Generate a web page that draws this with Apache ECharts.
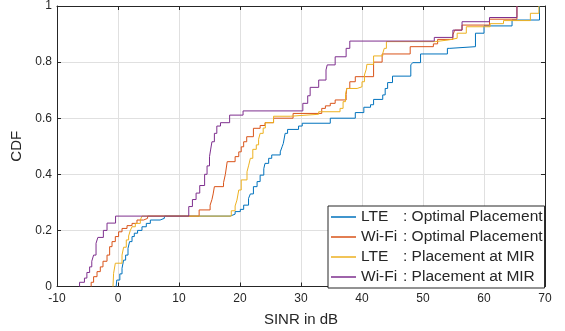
<!DOCTYPE html>
<html>
<head>
<meta charset="utf-8">
<script src="https://cdn.jsdelivr.net/npm/echarts@6/dist/echarts.min.js"></script>
<style>
html, body { margin: 0; padding: 0; background: #fff; }
#chart { width: 565px; height: 331px; }
</style>
</head>
<body>
<div id="chart"></div>
<script>
// series names (legend), colors follow the matlab default order
var seriesNames = ['LTE : Optimal Placement', 'Wi-Fi : Optimal Placement', 'LTE : Placement at MIR', 'Wi-Fi : Placement at MIR'];
var seriesColors = ['#0072BD', '#D95319', '#EDB120', '#7E2F8E'];

var lteOptimal = [
    [-0.3, 0], [-0.2, 0.023], [0.3, 0.045], [0.66, 0.065], [0.92, 0.094], [1.25, 0.112], [1.64, 0.136],
    [1.9, 0.16], [2.3, 0.178], [2.67, 0.19], [3.21, 0.2], [3.93, 0.213], [4.64, 0.225], [5.3, 0.237],
    [6.9, 0.243], [7.6, 0.251], [18.4, 0.258], [19.2, 0.267], [20.05, 0.275], [20.6, 0.29], [21.4, 0.314],
    [21.7, 0.33], [22.2, 0.356], [22.8, 0.374], [23.3, 0.397], [23.9, 0.42], [24.1, 0.439], [24.7, 0.457],
    [25.2, 0.469], [26.6, 0.48], [26.9, 0.498], [27.1, 0.51], [27.4, 0.546], [27.8, 0.56], [29.6, 0.572],
    [30.2, 0.582], [34.8, 0.6], [38.9, 0.62], [40.3, 0.639], [41.4, 0.648], [41.9, 0.667], [43.4, 0.683],
    [43.8, 0.706], [44.2, 0.727], [45.0, 0.75], [48.0, 0.79], [48.3, 0.798], [49.6, 0.829], [54.0, 0.849],
    [54.4, 0.855], [58.6, 0.903], [60.0, 0.929], [64.6, 0.95], [69.1, 1.0]
];
var wifiOptimal = [
    [-4.4, 0], [-4.4, 0.015], [-4.0, 0.035], [-3.44, 0.053], [-2.9, 0.07], [-2.46, 0.09], [-1.8, 0.112],
    [-1.37, 0.142], [-0.98, 0.16], [-0.44, 0.178], [0.1, 0.195], [0.66, 0.207], [1.48, 0.217], [2.3, 0.225],
    [3.11, 0.237], [4.2, 0.243], [4.85, 0.251], [13.3, 0.273], [15.1, 0.29], [15.4, 0.31], [15.6, 0.33],
    [15.8, 0.356], [17.3, 0.37], [17.6, 0.4], [17.9, 0.445], [19.2, 0.463], [19.8, 0.48], [20.2, 0.498],
    [20.6, 0.516], [21.1, 0.534], [22.2, 0.564], [23.3, 0.574], [24.1, 0.584], [25.5, 0.6], [28.7, 0.617],
    [33.4, 0.635], [34.0, 0.644], [34.8, 0.653], [35.6, 0.665], [37.4, 0.685], [37.5, 0.706], [38.0, 0.73],
    [38.9, 0.748], [41.9, 0.8], [43.3, 0.829], [47.9, 0.855], [51.7, 0.865], [52.4, 0.881], [54.9, 0.897],
    [55.2, 0.914], [56.4, 0.932], [60.9, 0.953], [65.4, 1.0]
];
var lteMir = [
    [-0.82, 0], [-0.72, 0.047], [-0.44, 0.083], [0.66, 0.112], [0.92, 0.14], [1.36, 0.166], [1.74, 0.18],
    [2.02, 0.2], [2.3, 0.213], [2.84, 0.225], [3.66, 0.237], [3.93, 0.251], [18.57, 0.27], [19.2, 0.287],
    [19.5, 0.308], [19.8, 0.344], [20.2, 0.38], [21.15, 0.409], [21.4, 0.43], [21.7, 0.457], [22.1, 0.489],
    [22.67, 0.505], [23.05, 0.525], [23.3, 0.546], [23.8, 0.565], [24.15, 0.584], [25.5, 0.607],
    [28.25, 0.614], [32.9, 0.623], [36.4, 0.635], [36.9, 0.659], [37.3, 0.685], [37.5, 0.706], [39.2, 0.712],
    [40.0, 0.73], [40.4, 0.754], [40.7, 0.775], [40.8, 0.792], [41.9, 0.822], [43.4, 0.831], [43.65, 0.849],
    [44.0, 0.873], [52.0, 0.879], [54.2, 0.885], [55.6, 0.903], [57.1, 0.926], [61.0, 0.937], [63.2, 0.948],
    [67.6, 0.974], [69.0, 1.0]
];
var wifiMir = [
    [-6.3, 0], [-6.3, 0.015], [-5.5, 0.03], [-5.1, 0.05], [-4.65, 0.07], [-4.3, 0.09], [-4.0, 0.112],
    [-3.6, 0.154], [-3.3, 0.175], [-2.4, 0.2], [-1.8, 0.226], [-0.4, 0.251], [11.6, 0.285], [12.2, 0.31],
    [12.8, 0.333], [13.4, 0.36], [14.2, 0.4], [14.6, 0.43], [15.0, 0.463], [15.2, 0.49], [15.4, 0.516],
    [15.8, 0.546], [16.2, 0.572], [16.8, 0.584], [18.3, 0.611], [20.5, 0.626], [30.3, 0.653], [31.1, 0.68],
    [31.5, 0.71], [32.9, 0.736], [34.1, 0.772], [34.3, 0.79], [35.6, 0.819], [37.4, 0.849], [38.0, 0.875],
    [51.85, 0.888], [54.9, 0.914], [56.4, 0.944], [60.9, 0.959], [65.4, 1.0]
];
var allSeries = [lteOptimal, wifiOptimal, lteMir, wifiMir];

var xMin = -10, xMax = 70, xStep = 10;
var yMin = 0, yMax = 1, yStep = 0.2;

var font = 'Liberation Sans, Arial, Helvetica, sans-serif';
var axisColor = '#262626';

var myChart = echarts.init(document.getElementById('chart'), null, {renderer: 'canvas'});

// top / right axes only close the box (ticks inside, no labels)
function boxAxis(pos, isX) {
    return {
        type: 'value',
        position: pos,
        min: isX ? xMin : yMin,
        max: isX ? xMax : yMax,
        interval: isX ? xStep : yStep,
        axisLine: {show: true, onZero: false, lineStyle: {color: axisColor, width: 1}},
        axisTick: {show: true, inside: true, length: 4, lineStyle: {color: axisColor}},
        axisLabel: {show: false},
        splitLine: {show: false}
    };
}

myChart.setOption({
    animation: false,
    backgroundColor: '#fff',
    grid: {left: 57, right: 20, top: 6, bottom: 44.5, outerBoundsMode: 'none'},
    xAxis: [{
        type: 'value',
        position: 'bottom',
        min: xMin, max: xMax, interval: xStep,
        name: 'SINR in dB',
        nameLocation: 'middle',
        nameGap: 26,
        nameTextStyle: {fontSize: 15, color: axisColor, fontFamily: font},
        axisLine: {show: true, onZero: false, lineStyle: {color: axisColor, width: 1}},
        axisTick: {show: true, inside: true, length: 4, lineStyle: {color: axisColor}},
        axisLabel: {fontSize: 12, color: axisColor, fontFamily: font, margin: 6},
        splitLine: {show: true, lineStyle: {color: '#e0e0e0', width: 1}}
    }, boxAxis('top', true)],
    yAxis: [{
        type: 'value',
        position: 'left',
        min: yMin, max: yMax, interval: yStep,
        name: 'CDF',
        nameLocation: 'middle',
        nameGap: 23,
        nameTextStyle: {fontSize: 15, color: axisColor, fontFamily: font},
        axisLine: {show: true, onZero: false, lineStyle: {color: axisColor, width: 1}},
        axisTick: {show: true, inside: true, length: 4, lineStyle: {color: axisColor}},
        axisLabel: {fontSize: 12, color: axisColor, fontFamily: font, margin: 5},
        splitLine: {show: true, lineStyle: {color: '#e0e0e0', width: 1}}
    }, boxAxis('right', false)],
    legend: {
        orient: 'vertical',
        left: 328,
        top: 206,
        icon: 'rect',
        itemWidth: 25,
        itemHeight: 1.5,
        itemGap: 4,
        padding: [3, 2, 3, 3],
        backgroundColor: '#fff',
        borderColor: axisColor,
        borderWidth: 1,
        borderRadius: 0,
        data: seriesNames,
        formatter: function (name) {
            var parts = name.split(' : ');
            return '{a|' + parts[0] + '}{b|: ' + parts[1] + '}';
        },
        textStyle: {
            fontSize: 15.5, color: axisColor, fontFamily: font, lineHeight: 16,
            rich: {
                a: {width: 42, fontSize: 15.5, color: axisColor, fontFamily: font, lineHeight: 16},
                b: {fontSize: 15.5, color: axisColor, fontFamily: font, lineHeight: 16}
            }
        }
    },
    series: allSeries.map(function (d, i) {
        return {
            name: seriesNames[i],
            type: 'line',
            step: 'end',
            data: d,
            showSymbol: false,
            symbol: 'none',
            color: seriesColors[i],
            lineStyle: {width: 1, color: seriesColors[i]}
        };
    })
});
</script>
</body>
</html>
